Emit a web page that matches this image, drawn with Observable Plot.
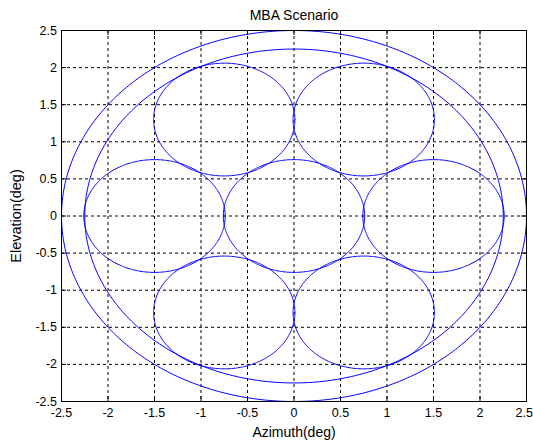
<!DOCTYPE html>
<html>
<head>
<meta charset="utf-8">
<script src="https://cdn.jsdelivr.net/npm/d3@7"></script>
<script src="https://cdn.jsdelivr.net/npm/@observablehq/plot@0.6"></script>
<style>
  html, body { margin: 0; padding: 0; background: #ffffff; }
  #chart { width: 533px; height: 443px; }
</style>
</head>
<body>
<div id="chart"></div>
<script>
// ---- data ----
const titleText = "MBA Scenario";
const xLabel = "Azimuth(deg)";
const yLabel = "Elevation(deg)";

const xTicks = [-2.5, -2, -1.5, -1, -0.5, 0, 0.5, 1, 1.5, 2, 2.5];
const yTicks = [-2.5, -2, -1.5, -1, -0.5, 0, 0.5, 1, 1.5, 2, 2.5];

// seven beam circles (centre azimuth, centre elevation, radius in deg)
const beamId = ["C", "E", "NE", "NW", "W", "SW", "SE"];
const beamX = [0, 1.5, 0.75, -0.75, -1.5, -0.75, 0.75];
const beamY = [0, 0, 1.3, 1.3, 0, -1.3, -1.3];
const beamR = [0.76, 0.76, 0.76, 0.76, 0.76, 0.76, 0.76];

// two coverage rings centred at the origin
const ringId = ["inner", "outer"];
const ringR = [2.25, 2.5];

// ---- build circle outlines ----
const nSeg = 360;
const circles = [];
function addCircle(id, cx, cy, r) {
  for (let i = 0; i <= nSeg; i++) {
    const a = (i / nSeg) * 2 * Math.PI;
    circles.push({id, x: cx + r * Math.cos(a), y: cy + r * Math.sin(a)});
  }
}
beamId.forEach((id, i) => addCircle(id, beamX[i], beamY[i], beamR[i]));
ringId.forEach((id, i) => addCircle(id, 0, 0, ringR[i]));

const W = 533, H = 443;
const mL = 61, mR = 7, mT = 30, mB = 42;
const innerW = W - mL - mR, innerH = H - mT - mB;
const tickLen = 5;
const fmt = d => String(d);
const xTicksMain = xTicks.slice(0, -1);
const xTickLast = xTicks.slice(-1);

const chart = Plot.plot({
  width: W,
  height: H,
  marginLeft: mL,
  marginRight: mR,
  marginTop: mT,
  marginBottom: mB,
  x: {domain: [-2.5, 2.5], axis: null},
  y: {domain: [-2.5, 2.5], axis: null},
  style: {
    fontFamily: "'Liberation Sans', Arial, Helvetica, sans-serif",
    fontSize: "12.5px",
    background: "#ffffff",
    color: "#000000",
    overflow: "visible"
  },
  marks: [
    // dashed grid
    Plot.ruleX(xTicks, {x: d => d, stroke: "#000000", strokeWidth: 1, strokeDasharray: "3,3"}),
    Plot.ruleY(yTicks, {y: d => d, stroke: "#000000", strokeWidth: 1, strokeDasharray: "3,3"}),
    // circles
    Plot.line(circles, {x: "x", y: "y", z: "id", stroke: "#0000ff", strokeWidth: 1, curve: "linear"}),
    // box
    Plot.frame({stroke: "#000000", strokeWidth: 1}),
    // inward ticks on all four sides
    Plot.ruleX(xTicks, {x: d => d, stroke: "#000000", insetTop: innerH - tickLen}),
    Plot.ruleX(xTicks, {x: d => d, stroke: "#000000", insetBottom: innerH - tickLen}),
    Plot.ruleY(yTicks, {y: d => d, stroke: "#000000", insetRight: innerW - tickLen}),
    Plot.ruleY(yTicks, {y: d => d, stroke: "#000000", insetLeft: innerW - tickLen}),
    // tick labels
    Plot.text(xTicksMain, {x: d => d, text: fmt, frameAnchor: "bottom", dy: 15.5, lineAnchor: "bottom",
      textAnchor: "middle", fill: "#000000", fontSize: 12.5}),
    Plot.text(xTickLast, {x: d => d, text: fmt, frameAnchor: "bottom", dy: 15.5, lineAnchor: "bottom",
      textAnchor: "end", dx: 6.5, fill: "#000000", fontSize: 12.5}),
    Plot.text(yTicks, {y: d => d, text: fmt, frameAnchor: "left", dx: -4.5, lineAnchor: "middle",
      textAnchor: "end", fill: "#000000", fontSize: 12.5}),
    // title and axis labels
    Plot.text([titleText], {text: d => d, frameAnchor: "top", dy: -10.7, lineAnchor: "bottom",
      textAnchor: "middle", fill: "#000000", fontSize: 14}),
    Plot.text([xLabel], {text: d => d, frameAnchor: "bottom", dy: 35.5, lineAnchor: "bottom",
      textAnchor: "middle", fill: "#000000", fontSize: 14}),
    Plot.text([yLabel], {text: d => d, frameAnchor: "left", dx: -40.5, rotate: -90, lineAnchor: "bottom",
      textAnchor: "middle", fill: "#000000", fontSize: 14.5})
  ]
});
document.getElementById("chart").appendChild(chart);
</script>
</body>
</html>
